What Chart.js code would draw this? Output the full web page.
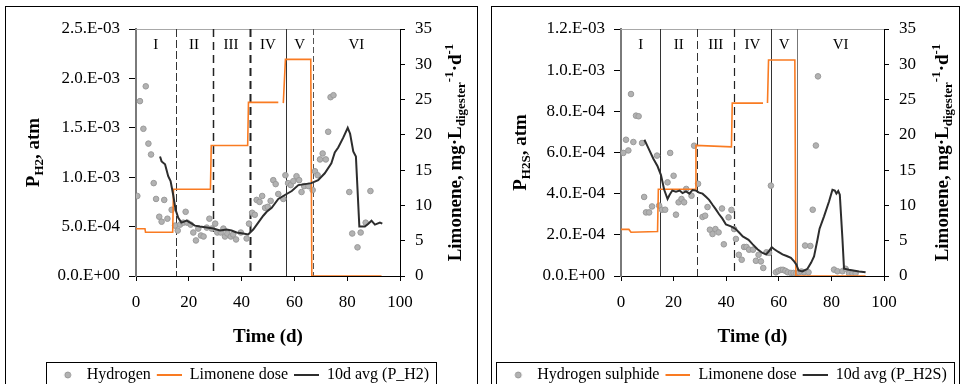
<!DOCTYPE html>
<html>
<head>
<meta charset="utf-8">
<script src="https://cdn.jsdelivr.net/npm/chart.js@4.4.1/dist/chart.umd.min.js"></script>
<style>
  body { margin: 0; background: #fff; width: 963px; height: 384px; overflow: hidden; position: relative; }
  .box { position: absolute; border: 1px solid #000; }
  canvas { position: absolute; }
</style>
</head>
<body>
<div class="box" style="left:5px;top:6px;width:471px;height:400px"></div>
<div class="box" style="left:491px;top:6px;width:467px;height:400px"></div>
<canvas id="chartH2" width="470" height="386" style="left:6px;top:7px"></canvas>
<canvas id="chartH2S" width="466" height="386" style="left:492px;top:7px"></canvas>
<script>
// phases of the experiment (day boundaries)
const phaseBounds = [0, 15, 29, 43, 57, 67, 100];
const phaseNames = ['I', 'II', 'III', 'IV', 'V', 'VI'];

// hydrogen partial pressure, atm
const h2Days = [0.5, 1.5, 2.8, 3.7, 4.7, 5.7, 6.7, 7.6, 8.8, 9.7,
  10.7, 11.9, 13.5, 14.8, 15.8, 16.7, 17.9, 18.8, 19.4, 20.7,
  21.7, 22.7, 23.6, 24.6, 25.6, 26.8, 27.8, 28.7, 30.0, 30.8,
  32.1, 33.1, 33.7, 34.6, 35.9, 36.8, 37.9, 39.7, 41.9, 42.8,
  44.0, 45.0, 45.7, 46.8, 47.8, 48.9, 49.9, 51.0, 52.0, 52.9,
  53.9, 55.8, 56.6, 57.6, 58.6, 59.6, 60.8, 61.8, 62.7, 63.7,
  65.3, 66.9, 67.8, 68.8, 69.7, 70.7, 71.9, 72.8, 73.7, 74.8,
  80.8, 81.9, 83.9, 85.1, 87.0, 88.8];
const h2Values = [8.1e-4, 1.77e-3, 1.49e-3, 1.92e-3, 1.34e-3, 1.23e-3, 9.4e-4, 7.8e-4, 6.0e-4, 5.5e-4,
  7.7e-4, 5.8e-4, 6.7e-4, 5.1e-4, 4.6e-4, 5.2e-4, 5.4e-4, 6.5e-4, 5.4e-4, 5.2e-4,
  4.4e-4, 3.6e-4, 4.8e-4, 4.1e-4, 4.0e-4, 4.9e-4, 5.8e-4, 4.8e-4, 5.3e-4, 4.4e-4,
  4.4e-4, 4.8e-4, 4.0e-4, 4.3e-4, 4.0e-4, 4.2e-4, 3.7e-4, 4.4e-4, 3.8e-4, 5.3e-4,
  6.4e-4, 6.2e-4, 7.7e-4, 7.5e-4, 8.1e-4, 6.9e-4, 7.0e-4, 7.6e-4, 9.7e-4, 9.3e-4,
  8.3e-4, 7.8e-4, 1.02e-3, 9.4e-4, 9.2e-4, 9.6e-4, 1.01e-3, 9.7e-4, 8.5e-4, 9.1e-4,
  9.1e-4, 8.7e-4, 1.06e-3, 1.02e-3, 1.18e-3, 1.24e-3, 1.18e-3, 1.46e-3, 1.81e-3, 1.83e-3,
  8.5e-4, 4.3e-4, 2.9e-4, 4.4e-4, 5.4e-4, 8.6e-4];

// 10 day moving average of P_H2
const h2AvgDays = [9.1, 9.7, 11.0, 12.2, 13.1, 14.1, 15.0, 16.0, 17.2, 18.2,
  19.2, 20.5, 22.3, 24.2, 26.8, 29.3, 31.8, 34.3, 36.2, 38.1,
  40.6, 42.5, 44.4, 46.3, 48.2, 49.5, 51.4, 53.9, 56.4, 59.0,
  61.5, 64.0, 66.4, 69.0, 71.5, 74.0, 75.3, 76.6, 78.5, 80.2,
  81.1, 82.3, 83.3, 84.6, 86.7, 88.0, 89.2, 90.5, 92.4, 93.3];
const h2AvgValues = [1.21e-3, 1.16e-3, 1.13e-3, 1.01e-3, 9.6e-4, 8.2e-4, 6.7e-4, 5.9e-4, 5.4e-4, 5.5e-4,
  5.6e-4, 5.4e-4, 5.1e-4, 5.0e-4, 4.9e-4, 4.8e-4, 4.6e-4, 4.7e-4, 4.6e-4, 4.4e-4,
  4.3e-4, 4.2e-4, 4.7e-4, 5.4e-4, 6.1e-4, 6.5e-4, 6.9e-4, 7.8e-4, 8.2e-4, 8.6e-4,
  9.2e-4, 9.3e-4, 9.4e-4, 9.7e-4, 1.04e-3, 1.14e-3, 1.25e-3, 1.30e-3, 1.40e-3, 1.50e-3,
  1.44e-3, 1.26e-3, 1.21e-3, 5.0e-4, 5.0e-4, 5.3e-4, 5.6e-4, 5.2e-4, 5.4e-4, 5.3e-4];

// limonene dose (mg/L/d) in the H2 run
const doseDaysH2 = [0, 3.4, 3.6, 13.9, 14.2, 28.2, 28.5, 42.3, 42.6, 53.9, 54.8, 55.8, 56.6, 66.2, 66.6, 93];
const doseH2 = [6.7, 6.7, 6.2, 6.2, 12.3, 12.3, 18.5, 18.5, 24.6, 24.6, null, 24.5, 30.7, 30.7, 0, 0];

// hydrogen sulphide partial pressure, atm
const h2sDays = [0.9, 1.9, 2.8, 3.8, 4.7, 5.7, 6.7, 8.0, 8.8, 9.5,
  10.7, 11.8, 13.7, 14.5, 15.6, 16.8, 17.7, 18.7, 20.0, 20.9,
  21.9, 23.0, 24.0, 24.8, 26.8, 27.8, 29.3, 31.0, 32.0, 32.9,
  33.8, 34.8, 35.9, 37.1, 38.4, 39.1, 40.9, 42.0, 43.0, 43.7,
  44.8, 45.9, 46.8, 47.7, 48.7, 50.2, 51.3, 52.3, 53.2, 54.1,
  55.3, 56.3, 57.0, 58.9, 59.8, 60.8, 61.6, 62.5, 63.4, 64.6,
  65.6, 66.6, 67.7, 68.6, 69.6, 70.0, 71.3, 72.0, 72.9, 74.1,
  74.9, 81.0, 82.3, 84.2, 85.4, 86.7, 88.0, 89.2];
const h2sValues = [5.98e-4, 6.62e-4, 6.10e-4, 8.84e-4, 6.51e-4, 7.79e-4, 7.76e-4, 6.46e-4, 3.84e-4, 3.09e-4,
  3.09e-4, 3.38e-4, 5.85e-4, 3.42e-4, 3.22e-4, 3.22e-4, 4.55e-4, 5.98e-4, 4.87e-4, 2.98e-4,
  3.58e-4, 3.74e-4, 3.58e-4, 4.23e-4, 3.90e-4, 6.33e-4, 4.48e-4, 2.87e-4, 2.93e-4, 3.35e-4,
  2.25e-4, 2.04e-4, 2.28e-4, 2.12e-4, 3.28e-4, 1.54e-4, 2.85e-4, 3.21e-4, 2.28e-4, 1.80e-4,
  1.03e-4, 7.9e-5, 1.41e-4, 1.41e-4, 1.28e-4, 1.28e-4, 7.4e-5, 1.03e-4, 7.1e-5, 3.9e-5,
  1.15e-4, 1.12e-4, 4.39e-4, 1.8e-5, 2.5e-5, 3.0e-5, 3.0e-5, 2.5e-5, 1.8e-5, 1.5e-5,
  1.5e-5, 1.2e-5, 1.8e-5, 2.2e-5, 1.8e-5, 1.48e-4, 1.8e-5, 1.46e-4, 3.22e-4, 6.34e-4,
  9.70e-4, 3.1e-5, 2.3e-5, 2.3e-5, 3.5e-5, 1.3e-5, 1.3e-5, 1.3e-5];

// 10 day moving average of P_H2S
const h2sAvgDays = [8.9, 10.1, 12.3, 13.9, 15.2, 16.4, 17.7, 18.5, 19.5, 20.9,
  22.3, 23.4, 24.7, 26.0, 27.2, 28.5, 29.7, 31.0, 32.3, 33.5,
  34.8, 36.0, 37.3, 38.5, 39.9, 41.8, 43.4, 45.0, 46.3, 48.5,
  50.0, 51.9, 53.8, 55.2, 56.2, 57.3, 58.3, 59.7, 61.4, 63.0,
  64.6, 65.9, 66.7, 67.5, 69.0, 70.9, 72.3, 73.4, 74.7, 75.5,
  77.2, 79.1, 80.4, 81.3, 81.9, 82.6, 83.2, 84.2, 84.8, 86.7,
  90.5, 93.0];
const h2sAvgValues = [6.62e-4, 6.30e-4, 5.70e-4, 5.33e-4, 4.90e-4, 4.20e-4, 3.74e-4, 3.95e-4, 4.15e-4, 4.10e-4,
  4.15e-4, 4.03e-4, 4.11e-4, 4.00e-4, 4.18e-4, 4.15e-4, 4.05e-4, 4.00e-4, 3.85e-4, 3.70e-4,
  3.46e-4, 3.25e-4, 3.00e-4, 2.80e-4, 2.50e-4, 2.41e-4, 2.30e-4, 2.10e-4, 1.92e-4, 1.76e-4,
  1.55e-4, 1.30e-4, 1.12e-4, 1.05e-4, 1.20e-4, 1.40e-4, 1.30e-4, 1.18e-4, 1.05e-4, 9.7e-5,
  8.8e-5, 7.0e-5, 5.5e-5, 2.7e-5, 2.2e-5, 3.5e-5, 6.5e-5, 9.5e-5, 1.76e-4, 2.30e-4,
  2.90e-4, 3.62e-4, 4.19e-4, 4.15e-4, 4.00e-4, 4.13e-4, 3.95e-4, 1.80e-4, 3.5e-5, 3.0e-5,
  2.2e-5, 1.8e-5];

// limonene dose (mg/L/d) in the H2S run
const doseDaysH2S = [0, 3, 3.8, 13.9, 14.2, 28.2, 28.5, 42.0, 42.3, 54.0, 54.8, 55.7, 56.1, 66.1, 66.5, 93];
const doseH2S = [6.6, 6.6, 6.2, 6.3, 12.3, 12.3, 18.5, 18.3, 24.5, 24.5, null, 24.5, 30.6, 30.6, 0, 0];

const SERIF = '"Liberation Serif", "Times New Roman", serif';
const ORANGE = '#f97b22';
const DARK = '#2d2d2d';
Chart.defaults.font.family = SERIF;
Chart.defaults.color = '#000';

function sciLabel(v) {
  if (Math.abs(v) < 1e-12) return '0.0.E+00';
  const parts = v.toExponential(1).split('e');
  const n = parseInt(parts[1], 10);
  return parts[0] + '.E' + (n < 0 ? '-' : '+') + String(Math.abs(n)).padStart(2, '0');
}

function pts(xs, ys) {
  return xs.map((x, i) => ({ x: x, y: ys[i] }));
}

function legendImg(draw) {
  const c = document.createElement('canvas');
  c.width = 26; c.height = 10;
  draw(c.getContext('2d'));
  return c;
}
const legendImgs = [
  legendImg(g => { g.fillStyle = '#b2b2b2'; g.strokeStyle = '#999'; g.beginPath(); g.arc(15, 5, 3, 0, Math.PI * 2); g.fill(); g.stroke(); }),
  legendImg(g => { g.fillStyle = ORANGE; g.fillRect(1, 4, 25, 2); }),
  legendImg(g => { g.fillStyle = DARK; g.fillRect(1, 4, 25, 2); })
];

// rotated text with sub/superscripts, read bottom to top
function drawRich(ctx, parts, bx, cy) {
  ctx.save();
  ctx.translate(bx, cy);
  ctx.rotate(-Math.PI / 2);
  ctx.fillStyle = '#000';
  ctx.textBaseline = 'alphabetic';
  let total = 0;
  parts.forEach(p => {
    ctx.font = 'bold ' + p.size + 'px ' + SERIF;
    p.w = ctx.measureText(p.t).width;
    total += p.w;
  });
  let x = -total / 2;
  parts.forEach(p => {
    ctx.font = 'bold ' + p.size + 'px ' + SERIF;
    ctx.fillText(p.t, x, p.dy || 0);
    x += p.w;
  });
  ctx.restore();
}

const phasePlugin = {
  id: 'phases',
  beforeDatasetsDraw(chart, args, opts) {
    const ctx = chart.ctx, a = chart.chartArea, x = chart.scales.x;
    ctx.save();
    ctx.strokeStyle = '#a8a8a8';
    ctx.lineWidth = 1;
    ctx.beginPath();
    ctx.moveTo(a.left, a.top + 0.5);
    ctx.lineTo(a.right, a.top + 0.5);
    ctx.stroke();
    opts.lines.forEach((s, i) => {
      const px = Math.round(x.getPixelForValue(phaseBounds[i + 1])) + 0.5;
      ctx.strokeStyle = s.color;
      ctx.lineWidth = s.width;
      ctx.setLineDash(s.dash);
      ctx.beginPath();
      ctx.moveTo(px, a.top);
      ctx.lineTo(px, a.bottom);
      ctx.stroke();
    });
    ctx.setLineDash([]);
    ctx.font = '15px ' + SERIF;
    ctx.fillStyle = '#000';
    ctx.textAlign = 'center';
    ctx.textBaseline = 'middle';
    phaseNames.forEach((n, i) => {
      const cx = x.getPixelForValue((phaseBounds[i] + phaseBounds[i + 1]) / 2);
      ctx.fillText(n, cx, a.top + 16);
    });
    ctx.restore();
  }
};

const extrasPlugin = {
  id: 'extras',
  afterDraw(chart, args, opts) {
    const ctx = chart.ctx, a = chart.chartArea;
    const cy = (a.top + a.bottom) / 2;
    drawRich(ctx, opts.left, opts.leftX, cy);
    drawRich(ctx, opts.right, opts.rightX, cy);
    // border round the legend
    const lg = chart.legend, hb = lg.legendHitBoxes;
    const l = Math.min.apply(null, hb.map(h => h.left)) - 7;
    const r = Math.max.apply(null, hb.map(h => h.left + h.width)) + 7;
    ctx.save();
    ctx.strokeStyle = '#000';
    ctx.lineWidth = 1;
    ctx.strokeRect(Math.round(l) + 0.5, Math.round(lg.top) + 0.5, Math.round(r - l), lg.height + 20);
    ctx.restore();
  }
};

function makeChart(id, o) {
  const canvas = document.getElementById(id);
  return new Chart(canvas, {
    type: 'scatter',
    data: {
      datasets: [{
        label: o.gasLabel,
        data: pts(o.days, o.values),
        yAxisID: 'y',
        backgroundColor: '#b2b2b2',
        borderColor: '#9a9a9a',
        borderWidth: 1,
        pointRadius: 2.8,
        order: 3
      }, {
        label: 'Limonene dose',
        data: pts(o.doseDays, o.dose),
        yAxisID: 'y1',
        showLine: true,
        spanGaps: false,
        borderColor: ORANGE,
        borderWidth: 1.6,
        pointRadius: 0,
        order: 2
      }, {
        label: o.avgLabel,
        data: pts(o.avgDays, o.avgValues),
        yAxisID: 'y',
        showLine: true,
        borderColor: DARK,
        borderWidth: 2,
        pointRadius: 0,
        order: 1
      }]
    },
    options: {
      responsive: false,
      animation: false,
      layout: { padding: { top: 22, left: 0, right: 0, bottom: 0 } },
      scales: {
        x: {
          type: 'linear', min: 0, max: 100,
          afterFit: s => { s.height = 86; },
          ticks: { stepSize: 20, padding: 11, font: { size: 17 } },
          grid: { drawOnChartArea: false, drawTicks: true, tickLength: 5, color: '#000' },
          border: { color: '#000', width: 1 },
          title: { display: true, text: 'Time (d)', font: { size: 19, weight: 'bold' }, padding: { top: 0, bottom: 14 } }
        },
        y: {
          position: 'left', min: 0, max: o.yMax,
          afterFit: s => { s.width = o.leftW; },
          ticks: { stepSize: o.yStep, padding: 9, font: { size: 17 }, callback: v => sciLabel(v) },
          grid: { drawOnChartArea: false, drawTicks: true, tickLength: 7, color: '#000' },
          border: { color: '#7a7a7a', width: 2 }
        },
        y1: {
          position: 'right', min: 0, max: 35,
          afterFit: s => { s.width = o.rightW; },
          ticks: { stepSize: 5, padding: 10, font: { size: 17 } },
          grid: { drawOnChartArea: false, drawTicks: true, tickLength: 5, color: '#000' },
          border: { color: '#000', width: 1 }
        }
      },
      plugins: {
        tooltip: { enabled: false },
        legend: {
          position: 'bottom',
          labels: {
            usePointStyle: true,
            pointStyleWidth: 26,
            boxHeight: 10,
            padding: 5,
            color: '#000',
            font: { size: 16 },
            sort: (a, b) => a.datasetIndex - b.datasetIndex,
            generateLabels(chart) {
              const items = Chart.defaults.plugins.legend.labels.generateLabels(chart);
              items.forEach(it => { it.pointStyle = legendImgs[it.datasetIndex]; });
              return items;
            }
          }
        },
        phases: { lines: o.phaseLines },
        extras: {
          left: o.leftTitle, leftX: o.leftTitleX,
          right: [
            { t: 'Limonene, mg·L', size: 19 },
            { t: 'digester', size: 13, dy: 4 },
            { t: '-1', size: 13, dy: -8 },
            { t: '·d', size: 19 },
            { t: '-1', size: 13, dy: -8 }
          ],
          rightX: o.rightTitleX
        }
      }
    },
    plugins: [phasePlugin, extrasPlugin]
  });
}

makeChart('chartH2', {
  gasLabel: 'Hydrogen', avgLabel: '10d avg (P_H2)',
  days: h2Days, values: h2Values,
  avgDays: h2AvgDays, avgValues: h2AvgValues,
  doseDays: doseDaysH2, dose: doseH2,
  yMax: 2.5e-3, yStep: 5e-4,
  leftW: 130, rightW: 76,
  leftTitle: [{ t: 'P', size: 19 }, { t: 'H2', size: 13, dy: 4 }, { t: ', atm', size: 19 }],
  leftTitleX: 33, rightTitleX: 455,
  phaseLines: [
    { color: '#333', width: 1, dash: [8, 3] },
    { color: '#222', width: 1.5, dash: [8, 5] },
    { color: '#222', width: 2, dash: [8, 5] },
    { color: '#333', width: 1, dash: [] },
    { color: '#555', width: 1, dash: [6, 3] }
  ]
});

makeChart('chartH2S', {
  gasLabel: 'Hydrogen sulphide', avgLabel: '10d avg (P_H2S)',
  days: h2sDays, values: h2sValues,
  avgDays: h2sAvgDays, avgValues: h2sAvgValues,
  doseDays: doseDaysH2S, dose: doseH2S,
  yMax: 1.2e-3, yStep: 2e-4,
  leftW: 129, rightW: 74,
  leftTitle: [{ t: 'P', size: 19 }, { t: 'H2S', size: 13, dy: 4 }, { t: ', atm', size: 19 }],
  leftTitleX: 34, rightTitleX: 456,
  phaseLines: [
    { color: '#333', width: 1, dash: [] },
    { color: '#333', width: 1, dash: [8, 4] },
    { color: '#222', width: 1.2, dash: [8, 5] },
    { color: '#333', width: 1, dash: [] },
    { color: '#777', width: 1, dash: [] }
  ]
});
</script>
</body>
</html>
